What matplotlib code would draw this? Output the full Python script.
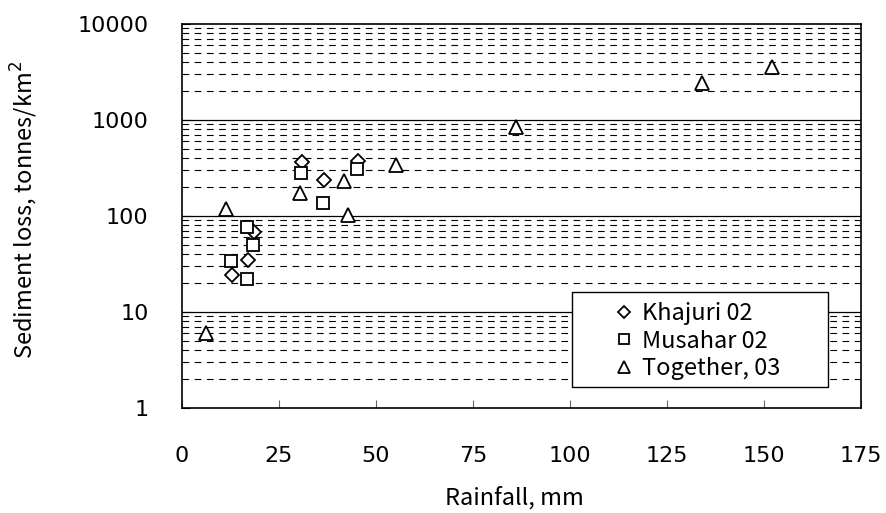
import numpy as np
import matplotlib
matplotlib.use("Agg")
from matplotlib import pyplot as plt
from matplotlib.patches import Rectangle
from matplotlib.ticker import FixedLocator, NullFormatter

plt.rcParams['font.family'] = ['Noto Sans CJK JP', 'DejaVu Sans']

# data
khajuri_x = [30.8, 36.5, 45.3, 18.6, 16.9, 12.8]
khajuri_y = [368, 235, 377, 68, 34.8, 24.3]

musahar_x = [30.6, 36.3, 45.0, 16.8, 18.2, 12.5, 16.7]
musahar_y = [279, 137, 306, 76, 49.5, 33.7, 21.9]

together_x = [6.2, 11.3, 30.3, 41.7, 42.7, 55.1, 86.0, 134.0, 152.0]
together_y = [6.1, 118, 175, 230, 103, 340, 839, 2448, 3592]

x_ticks = [0, 25, 50, 75, 100, 125, 150, 175]
y_ticks = [1, 10, 100, 1000, 10000]

fig = plt.figure(figsize=(8.86, 5.13), dpi=100)
ax = fig.add_axes([182 / 886, 1 - 408 / 513, (861 - 182) / 886, (408 - 24) / 513])

ax.set_yscale('log')
ax.set_xlim(0, 175)
ax.set_ylim(1, 10000)

# grid: solid at decades, dashed in between
minors = [m * 10 ** d for d in range(4) for m in range(2, 10)]
for v in [10, 100, 1000]:
    ax.axhline(v, color='black', lw=0.9, zorder=1)
for v in minors:
    ax.axhline(v, color='black', lw=0.8, ls=(0, (6, 5)), zorder=1)

mk = dict(linestyle='none', markerfacecolor='white', markeredgecolor='black',
          markeredgewidth=1.3, zorder=3)
ax.plot(khajuri_x, khajuri_y, marker='D', ms=7, label='Khajuri 02', **mk)
ax.plot(musahar_x, musahar_y, marker='s', ms=8, label='Musahar 02', **mk)
ax.plot(together_x, together_y, marker='^', ms=9.5, label='Together, 03', **mk)

ax.set_xticks(x_ticks)
ax.set_xticklabels([str(t) for t in x_ticks], family='DejaVu Sans')
ax.yaxis.set_major_locator(FixedLocator(y_ticks))
ax.set_yticklabels([str(t) for t in y_ticks], family='DejaVu Sans')
ax.yaxis.set_minor_locator(FixedLocator(minors))
ax.yaxis.set_minor_formatter(NullFormatter())
ax.tick_params(axis='x', direction='in', length=6, pad=27, labelsize=16, color='#666666')
ax.tick_params(axis='y', which='major', direction='in', length=6, pad=24, labelsize=16)
ax.tick_params(axis='y', which='minor', direction='in', length=4)

for s in ax.spines.values():
    s.set_linewidth(1.2)

ax.set_xlabel('Rainfall, mm', fontsize=17)
ax.set_ylabel('Sediment loss, tonnes/km$^2$', fontsize=17)
ax.xaxis.set_label_coords((514 - 182) / 679, -(486 - 408) / 384)
ax.yaxis.set_label_coords(-(182 - 40) / 679, (408 - 210) / 384)

# legend box drawn separately, entries placed inside it
ax.add_patch(Rectangle(((572 - 182) / 679, (408 - 387) / 384), (828 - 572) / 679, (387 - 292) / 384,
                       transform=ax.transAxes, facecolor='white', edgecolor='black',
                       lw=1.0, zorder=4))
leg = ax.legend(loc='center left', bbox_to_anchor=((615 - 182) / 679, (408 - 341) / 384),
                fontsize=17, frameon=False, handletextpad=0.36, handlelength=0.8,
                borderpad=0, borderaxespad=0, labelspacing=0.2, markerscale=0.85)
leg.legend_handles[2].set_markersize(8.5)
leg.set_zorder(5)

fig.savefig('out.png', dpi=100, facecolor='white')
